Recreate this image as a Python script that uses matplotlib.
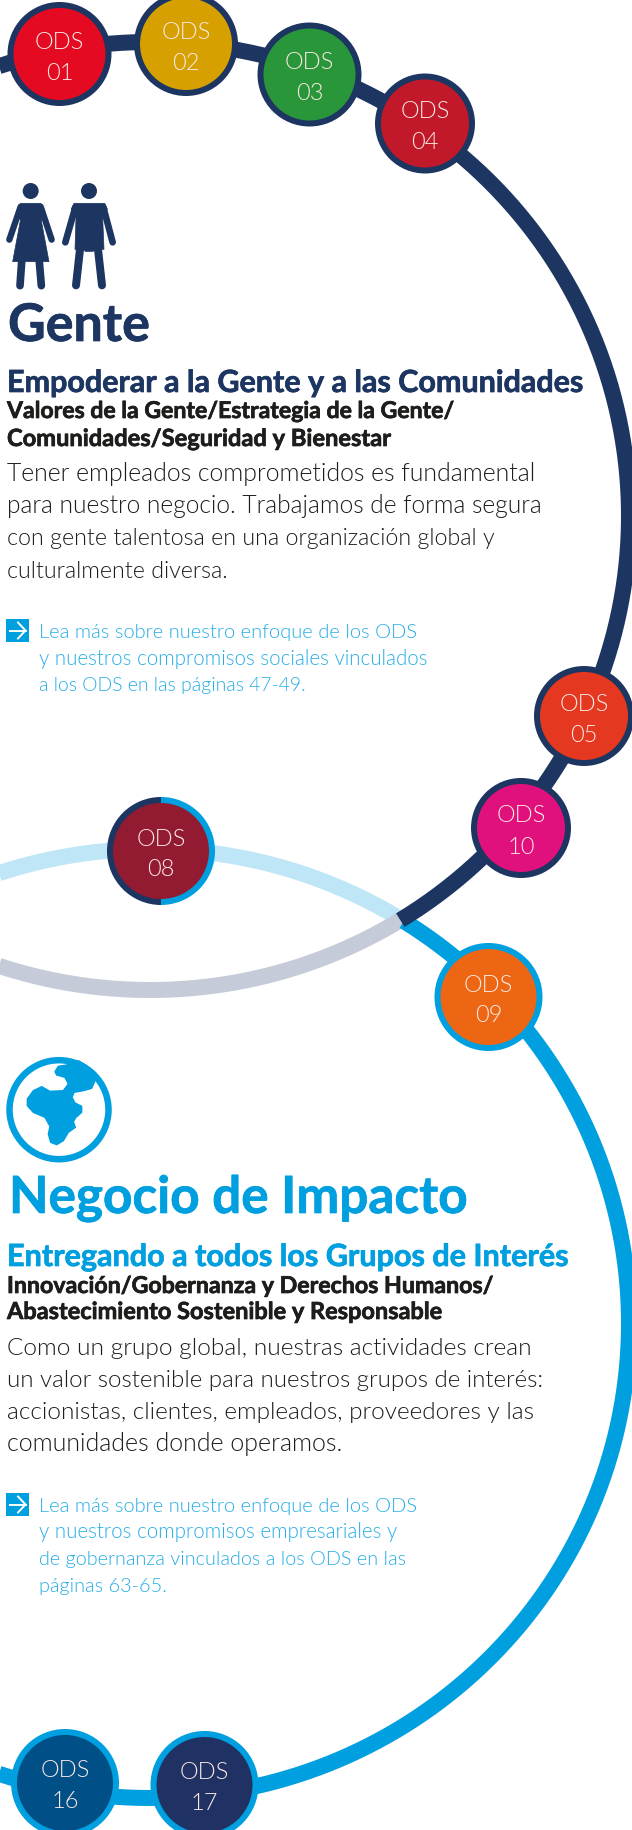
import numpy as np
import matplotlib
matplotlib.use('Agg')
import matplotlib.pyplot as plt
import matplotlib.patheffects as pe
from matplotlib import font_manager as fm
from matplotlib.patches import Circle, Wedge, Polygon, Rectangle

navy = '#1D3661'
blue = '#009FDF'
navy_pale = '#C5CBD8'
blue_pale = '#BFE6F7'
ink = '#1D1D1B'
link = '#25ADE6'

# circles, in picture pixels
ods_labels = ['01', '02', '03', '04', '05', '10', '09', '16', '17']
ods_x = [59.5, 186, 309.5, 425, 584, 521, 488.5, 65, 204.5]
ods_y = [55, 45, 75.5, 124.5, 717, 829, 998, 1784, 1786]
ods_r = [52, 52, 52, 50, 50, 50, 54, 54, 54]
ods_fill = ['#E30A21', '#D5A000', '#2A963A', '#C1192A', '#E53820', '#E0107C',
            '#EC6614', '#014F87', '#203264']
ods_ring = [navy, navy, navy, navy, navy, navy, blue, blue, blue]

# lines: text, x, baseline, width
head_lines = [
    ('Gente', 8, 342, 142, 37, navy, 'bold'),
    ('Empoderar a la Gente y a las Comunidades', 7, 393, 576, 21, navy, 'bold'),
    ('Valores de la Gente/Estrategia de la Gente/', 7, 419, 449, 15, ink, 'bold'),
    ('Comunidades/Seguridad y Bienestar', 7, 447, 385, 15, ink, 'bold'),
    ('Negocio de Impacto', 9, 1214, 459, 37, blue, 'bold'),
    ('Entregando a todos los Grupos de Interés', 7, 1267, 561, 21, blue, 'bold'),
    ('Innovación/Gobernanza y Derechos Humanos/', 7, 1294, 488, 15, ink, 'bold'),
    ('Abastecimiento Sostenible y Responsable', 7, 1320, 437, 15, ink, 'bold'),
    ('Tener empleados comprometidos es fundamental', 7, 481, 533, 17, ink, 'light'),
    ('para nuestro negocio. Trabajamos de forma segura', 7, 513, 536, 17, ink, 'light'),
    ('con gente talentosa en una organización global y', 7, 545, 487, 17, ink, 'light'),
    ('culturalmente diversa.', 7, 578, 222, 17, ink, 'light'),
    ('Como un grupo global, nuestras actividades crean', 7, 1355, 525, 17, ink, 'light'),
    ('un valor sostenible para nuestros grupos de interés:', 7, 1387, 538, 17, ink, 'light'),
    ('accionistas, clientes, empleados, proveedores y las', 7, 1419, 531, 17, ink, 'light'),
    ('comunidades donde operamos.', 7, 1451, 338, 17, ink, 'light'),
    ('Lea más sobre nuestro enfoque de los ODS', 39, 638, 378, 14, link, 'light'),
    ('y nuestros compromisos sociales vinculados', 39, 665, 389, 14, link, 'light'),
    ('a los ODS en las páginas 47-49.', 39, 691, 267, 14, link, 'light'),
    ('Lea más sobre nuestro enfoque de los ODS', 39, 1512, 379, 14, link, 'light'),
    ('y nuestros compromisos empresariales y', 39, 1538, 359, 14, link, 'light'),
    ('de gobernanza vinculados a los ODS en las', 39, 1565, 369, 14, link, 'light'),
    ('páginas 63-65.', 39, 1592, 128, 14, link, 'light'),
]

plt.rcParams['font.family'] = ['Lato', 'DejaVu Sans']


def font_for(weight):
    # Lato "light" resolves to the hairline cut, so look the file up
    if weight == 'light':
        for f in fm.fontManager.ttflist:
            if f.name == 'Lato' and f.fname.endswith('Lato-Light.ttf'):
                return fm.FontProperties(fname=f.fname)
        return fm.FontProperties(family='Lato', weight='normal')
    return fm.FontProperties(family='Lato', weight=weight)


fig = plt.figure(figsize=(6.32, 18.31), dpi=100)
ax = fig.add_axes([0, 0, 1, 1])
ax.set_xlim(0, 632)
ax.set_ylim(1831, 0)
ax.axis('off')


def arc(cx, cy, rx, ry, t0, t1, color, z):
    t = np.radians(np.linspace(t0, t1, 400))
    ax.plot(cx + rx * np.cos(t), cy + ry * np.sin(t), color=color, lw=16 * 0.72,
            solid_capstyle='butt', zorder=z)


arc(150, 1324.5, 479, 474.5, -58, -125, blue_pale, 1)
arc(150, 517, 479, 474, 58.5, 125, navy_pale, 2)
arc(150, 1324.5, 479, 474.5, -58, 115, blue, 3)
arc(150, 517, 479, 474, 58.5, -125, navy, 4)

for lab, x, y, r, fill, ring in zip(ods_labels, ods_x, ods_y, ods_r, ods_fill, ods_ring):
    ax.add_patch(Circle((x, y), r, fc=ring, ec='none', zorder=5))
    ax.add_patch(Circle((x, y), r - 6, fc=fill, ec='none', zorder=6))
    for dy, s in ((-13, 'ODS'), (18, lab)):
        ax.text(x, y + dy, s, color='#FBE9E4', fontproperties=font_for('light'), fontsize=17,
                ha='center', va='center', zorder=7)

# ODS 08 has a split ring
ax.add_patch(Wedge((161, 852), 54, 90, 270, fc=navy, ec='none', zorder=5))
ax.add_patch(Wedge((161, 852), 54, -90, 90, fc=blue, ec='none', zorder=5))
ax.add_patch(Circle((161, 852), 48, fc='#931B31', ec='none', zorder=6))
for dy, s in ((-13, 'ODS'), (18, '08')):
    ax.text(161, 852 + dy, s, color='#FBE9E4', fontproperties=font_for('light'), fontsize=17,
            ha='center', va='center', zorder=7)

renderer = fig.canvas.get_renderer()
for s, x, y, w, size, color, weight in head_lines:
    t = ax.text(x, y, s, color=color, fontproperties=font_for(weight), fontsize=size,
                ha='left', va='baseline', zorder=8)
    got = t.get_window_extent(renderer).width
    t.set_fontsize(size * w / got)
    if weight == 'bold':
        # the original bold is heavier than Lato Bold
        t.set_path_effects([pe.withStroke(linewidth=0.5, foreground=color)])


# people icon, traced at 3x from the top-left of the icon box
def px(v):
    return v / 3


def limb(x0, y0, x1, y1, w):
    ax.plot([px(x0), px(x1)], [175 + px(y0), 175 + px(y1)], color=navy, lw=w / 3 * 0.72,
            solid_capstyle='round', zorder=5)


ax.add_patch(Circle((px(92), 175 + px(51)), 8, fc=navy, ec='none'))
ax.add_patch(Circle((px(267), 175 + px(51)), 8, fc=navy, ec='none'))
woman = [(62, 88), (122, 88), (132, 105), (124, 140), (147, 263), (38, 263), (61, 140), (52, 105)]
man = [(222, 88), (314, 88), (322, 105), (308, 130), (312, 226), (284, 226), (280, 232),
       (255, 232), (252, 226), (225, 226), (228, 130), (214, 105)]
for shape in (woman, man):
    ax.add_patch(Polygon([(px(a), 175 + px(b)) for a, b in shape], fc=navy, ec=navy, lw=0.5,
                         joinstyle='round', zorder=5))
limb(62, 98, 28, 197, 19)
limb(122, 98, 155, 197, 19)
limb(65, 263, 60, 335, 23)
limb(118, 263, 124, 335, 23)
limb(226, 100, 196, 205, 20)
limb(310, 100, 338, 205, 20)
limb(240, 226, 228, 334, 24)
limb(294, 226, 306, 334, 24)

# globe icon
land = [(165, 68), (175, 52), (200, 48), (235, 35), (260, 50), (285, 95), (275, 118), (250, 125),
        (222, 130), (216, 145), (225, 162), (245, 172), (245, 190), (228, 205), (220, 218),
        (226, 235), (205, 250), (190, 275), (170, 287), (152, 280), (145, 255), (150, 232),
        (135, 205), (100, 190), (82, 170), (82, 150), (100, 125), (125, 113), (150, 127),
        (190, 125), (205, 105), (195, 85), (170, 78)]
ax.add_patch(Polygon([(px(a), 1050 + px(b)) for a, b in land], fc=blue, ec=blue, lw=1,
                     joinstyle='round', zorder=5))
ax.add_patch(Circle((59, 1110.7), 49.5, fc='none', ec=blue, lw=6.5 * 0.72, zorder=5))

# arrow boxes
for top in (620, 1494):
    ax.add_patch(Rectangle((6.3, top), 22.7, 23, fc=blue, ec='none', zorder=5))
    mid = top + 11.5
    ax.plot([9.5, 25.5], [mid, mid], color='white', lw=1.4, zorder=6)
    ax.plot([18, 25.5, 18], [mid - 8, mid, mid + 8], color='white', lw=1.4, zorder=6)

fig.savefig('out.png', dpi=100)
